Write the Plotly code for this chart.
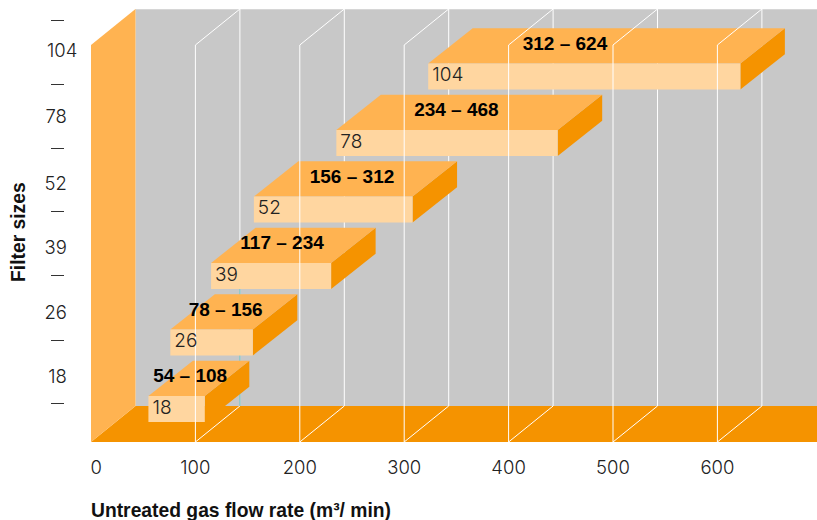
import plotly.graph_objects as go

# ---- data ----
filter_sizes = ["18", "26", "39", "52", "78", "104"]
range_labels = ["54 – 108", "78 – 156", "117 – 234", "156 – 312", "234 – 468", "312 – 624"]
flow_low = [55, 76, 115, 156, 235, 323]
flow_high = [109, 155, 230, 308, 447, 622]
levels = [0, 1, 2, 3, 4, 5]
range_label_x = [95, 129, 183, 250, 350, 454]
size_label_levels = [0.68, 1.64, 2.62, 3.58, 4.59, 5.59]
dash_levels = [0.28, 1.23, 2.21, 3.17, 4.12, 5.08, 6.04]
x_ticks = [100, 200, 300, 400, 500, 600]

# ---- geometry / style (page pixels) ----
FIG_W, FIG_H = 817, 520
PX_PER_X = 1.044
PX_PER_LEVEL = 66.5
PLOT_L, PLOT_R, PLOT_T, PLOT_B = 91, 817, 9, 442
X_MAX = (PLOT_R - PLOT_L) / PX_PER_X
Y_MIN = -20 / PX_PER_LEVEL
Y_MAX = Y_MIN + (PLOT_B - PLOT_T) / PX_PER_LEVEL
DX = 44.5 / PX_PER_X           # depth offset on x
DY = 35.3 / PX_PER_LEVEL       # depth offset of the boxes on y
WALL_DY = 36 / PX_PER_LEVEL    # depth offset of the room on y
BOX_H = 26 / PX_PER_LEVEL
WALL_TOP = Y_MIN + (442 - 45) / PX_PER_LEVEL

ORANGE = "#F59300"
LIGHT = "#FFB351"
PALE = "#FFD6A0"
GREY = "#C8C8C8"
FONT = "Liberation Sans"
LIGHT_FONT = dict(family="Inter", size=18.5, color="#222222", weight=300)
BOX_FONT = dict(family="Inter", size=19, color="#222222", weight=300)

fig = go.Figure()


def poly(xs, ys, color):
    fig.add_trace(go.Scatter(x=xs, y=ys, mode="lines", fill="toself", fillcolor=color,
                             line=dict(width=0, color=color), hoverinfo="skip", showlegend=False))


def line(xs, ys, color="#FFFFFF", width=1):
    fig.add_trace(go.Scatter(x=xs, y=ys, mode="lines", line=dict(width=width, color=color),
                             hoverinfo="skip", showlegend=False))


# back wall, floor, left wall
poly([DX, X_MAX, X_MAX, DX], [Y_MIN + WALL_DY, Y_MIN + WALL_DY, WALL_TOP + WALL_DY, WALL_TOP + WALL_DY], GREY)
line([DX, X_MAX], [WALL_TOP + WALL_DY, WALL_TOP + WALL_DY], "#E4E4E4", 1)
poly([0, DX, X_MAX, X_MAX], [Y_MIN, Y_MIN + WALL_DY, Y_MIN + WALL_DY, Y_MIN], ORANGE)
poly([0, 0, DX, DX], [Y_MIN, WALL_TOP, WALL_TOP + WALL_DY, Y_MIN + WALL_DY], LIGHT)

# grid behind the boxes: back verticals and floor diagonals
for t in x_ticks:
    line([t + DX, t + DX], [Y_MIN + WALL_DY, WALL_TOP + WALL_DY])
    line([t, t + DX], [Y_MIN, Y_MIN + WALL_DY])

# teal stretch of the 100 back line
line([100 + DX, 100 + DX], [Y_MIN + WALL_DY, 2], "#5FB4B4", 1)

# boxes
for lo, hi, lv in zip(flow_low, flow_high, levels):
    poly([hi, hi + DX, hi + DX, hi], [lv, lv + DY, lv + BOX_H + DY, lv + BOX_H], ORANGE)
    poly([lo, hi, hi + DX, lo + DX], [lv + BOX_H, lv + BOX_H, lv + BOX_H + DY, lv + BOX_H + DY], LIGHT)
    poly([lo, hi, hi, lo], [lv, lv, lv + BOX_H, lv + BOX_H], PALE)

# grid in front of the boxes: front verticals and top diagonals
for t in x_ticks:
    line([t, t], [Y_MIN, WALL_TOP])
    line([t, t + DX], [WALL_TOP, WALL_TOP + WALL_DY])

# size labels on the box fronts
fig.add_trace(go.Scatter(
    x=[lo + 4 / PX_PER_X for lo in flow_low], y=[lv + BOX_H / 2 for lv in levels],
    mode="text", text=filter_sizes, textposition="middle right",
    textfont=BOX_FONT, hoverinfo="skip", showlegend=False))

# bold range labels
fig.add_trace(go.Scatter(
    x=range_label_x, y=[lv + BOX_H + DY / 2 + 0.015 for lv in levels],
    mode="text", text=range_labels, textposition="middle center",
    textfont=dict(family=FONT, size=19, color="#000000", weight="bold"),
    hoverinfo="skip", showlegend=False))

# carrier of the dash axis beside the wall (nothing visible is drawn by it)
fig.add_trace(go.Scatter(x=[0] * len(dash_levels), y=dash_levels, yaxis="y2", mode="markers",
                         marker=dict(opacity=0, size=1), hoverinfo="skip", showlegend=False))

nb = "\u00a0\u00a0"
fig.update_layout(
    width=FIG_W, height=FIG_H, autosize=False,
    margin=dict(l=0, r=0, t=PLOT_T, b=FIG_H - PLOT_B),
    paper_bgcolor="white", plot_bgcolor="white", showlegend=False,
    font=dict(family=FONT, size=18, color="#222222"),
    xaxis=dict(domain=[PLOT_L / FIG_W, 1], range=[0, X_MAX], showgrid=False, zeroline=False,
               showline=False, tickmode="array", tickvals=[5] + x_ticks,
               ticktext=[str(0)] + [str(t) for t in x_ticks],
               ticks="outside", ticklen=9, tickcolor="rgba(0,0,0,0)",
               tickfont=LIGHT_FONT),
    yaxis=dict(range=[Y_MIN, Y_MAX], showgrid=False, zeroline=False, showline=False,
               tickmode="array", tickvals=size_label_levels,
               ticktext=[s + nb if len(s) == 2 else s for s in filter_sizes],
               ticks="outside", ticklen=9, tickcolor="rgba(0,0,0,0)",
               tickfont=LIGHT_FONT),
    yaxis2=dict(range=[Y_MIN, Y_MAX], overlaying="y", anchor="free", side="left",
                position=63.5 / FIG_W, showgrid=False, zeroline=False, showline=False,
                tickmode="array", tickvals=dash_levels, showticklabels=False,
                ticks="outside", ticklen=13, tickwidth=1, tickcolor="#333333"),
    annotations=[
        dict(text="<b>Untreated gas flow rate (m³/ min)</b>", xref="paper", yref="paper",
             x=(PLOT_L - 2) / FIG_W, y=-(510 - PLOT_B) / (PLOT_B - PLOT_T),
             xanchor="left", yanchor="middle",
             showarrow=False, font=dict(family=FONT, size=19.3, color="#111111")),
        dict(text="<b>Filter sizes</b>", textangle=-90, xref="paper", yref="paper",
             x=19 / FIG_W, y=(PLOT_B - 232) / (PLOT_B - PLOT_T),
             xanchor="center", yanchor="middle",
             showarrow=False, font=dict(family=FONT, size=19.3, color="#111111")),
    ],
)

fig.write_html("out.html", config={"displayModeBar": False},
               post_script="document.body.style.margin='0';",
               default_width=f"{FIG_W}px", default_height=f"{FIG_H}px")
